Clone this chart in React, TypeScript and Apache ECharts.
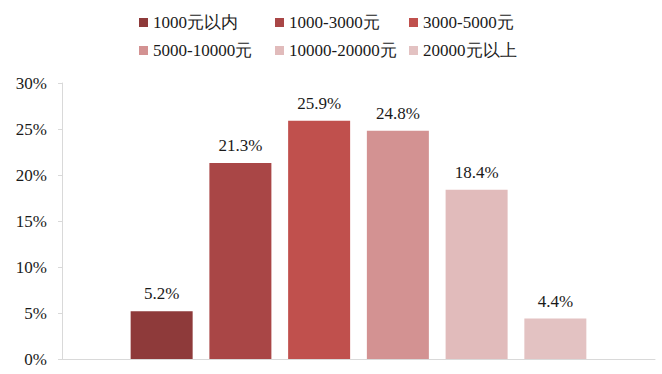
import React, { useEffect, useRef } from "react";
import * as echarts from "echarts";

const categories = ["1000元以内", "1000-3000元", "3000-5000元", "5000-10000元", "10000-20000元", "20000元以上"];
const shares = [5.2, 21.3, 25.9, 24.8, 18.4, 4.4];
const colors = ["#8e3a3a", "#a94646", "#c0504d", "#d39292", "#e1bbbb", "#e3c2c2"];
const yTicks = { min: 0, max: 30, interval: 5 };

// legend slots: [left, top] of each entry, laid out as a 3 x 2 grid
const legendSlots: [number, number][] = [
  [139, 14], [275, 14], [409, 14],
  [139, 42], [275, 42], [409, 42],
];

const FONT = "Liberation Serif";
const INK = "#1a1a1a";

export default function App() {
  const ref = useRef<HTMLDivElement>(null);

  useEffect(() => {
    if (!ref.current) return;
    const chart = echarts.init(ref.current, undefined, { renderer: "svg" });

    const legends = categories.map((name, i) => ({
      show: true,
      data: [name],
      left: legendSlots[i][0],
      top: legendSlots[i][1],
      padding: 0,
      itemWidth: 9,
      itemHeight: 9,
      itemGap: 4,
      icon: "rect",
      textStyle: { fontFamily: FONT, fontSize: 17, color: INK },
    }));

    chart.setOption({
      animation: false,
      textStyle: { fontFamily: FONT, fontSize: 17, color: INK },
      legend: legends,
      grid: { left: 62, right: 7, top: 83, bottom: 15, containLabel: false },
      xAxis: {
        type: "category",
        data: [""],
        axisLine: { show: true, lineStyle: { color: "#d9d9d9", width: 1 } },
        axisTick: { show: false },
        axisLabel: { show: false },
      },
      yAxis: {
        type: "value",
        min: yTicks.min,
        max: yTicks.max,
        interval: yTicks.interval,
        axisLine: { show: true, lineStyle: { color: "#d9d9d9", width: 1 } },
        axisTick: { show: true, length: 4, lineStyle: { color: "#d9d9d9" } },
        splitLine: { show: false },
        axisLabel: {
          formatter: "{value}%",
          fontFamily: FONT,
          fontSize: 17,
          color: INK,
          margin: 15,
        },
      },
      series: categories.map((name, i) => ({
        name,
        type: "bar",
        data: [shares[i]],
        barWidth: 62,
        barGap: "27%",
        itemStyle: { color: colors[i] },
        label: {
          show: true,
          position: "top",
          distance: 9,
          formatter: (p: any) => `${p.value.toFixed(1)}%`,
          fontFamily: FONT,
          fontSize: 17,
          color: INK,
        },
      })),
    });

    return () => chart.dispose();
  }, []);

  return <div ref={ref} style={{ width: 662, height: 374, position: "absolute", left: 0, top: 0 }} />;
}
